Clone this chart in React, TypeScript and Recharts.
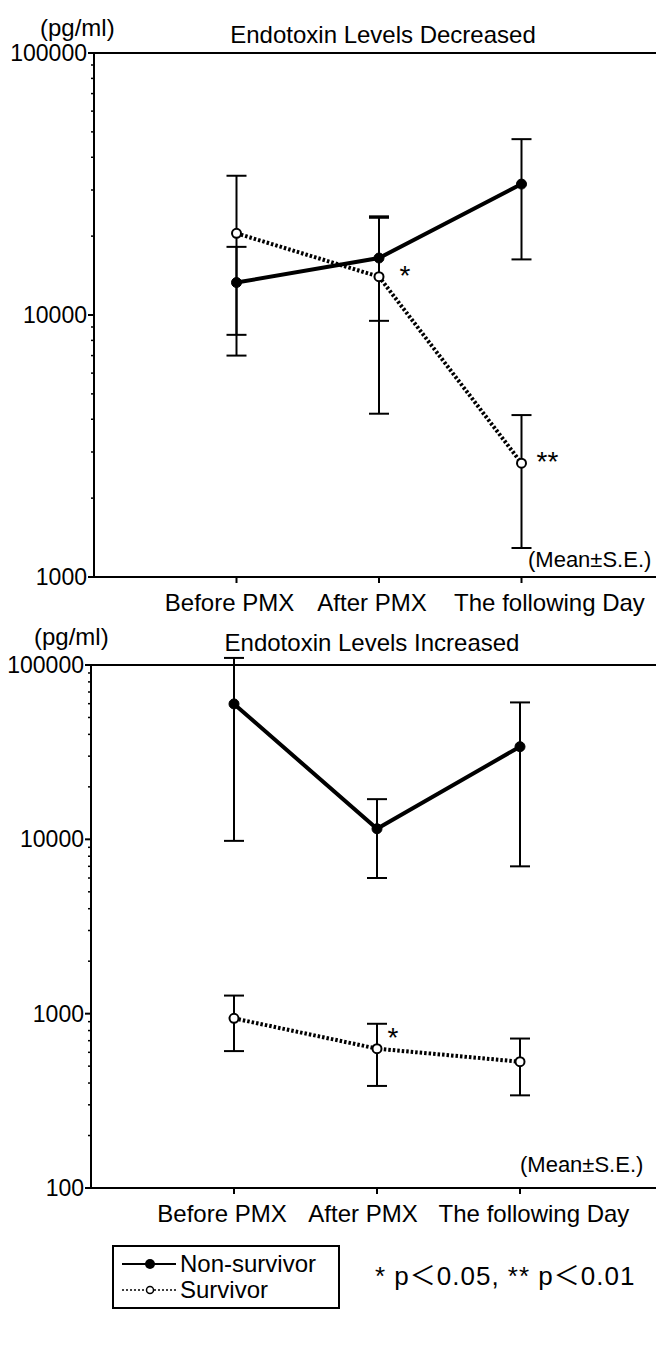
import React from "react";
import { LineChart, Line, XAxis, YAxis, ErrorBar, LabelList, ReferenceLine } from "recharts";

const categories = ["Before PMX", "After PMX", "The following Day"];
const xPositions = [1, 2, 3];

// Endotoxin Levels Decreased (pg/ml), mean and S.E.
const decNonSurvivor = [13300, 16500, 31600];
const decNonSurvivorSE = [4900, 7000, 15300];
const decSurvivor = [20500, 14000, 2720];
const decSurvivorSE = [13500, 9800, 1430];
const decSig = ["", "*", "**"];

// Endotoxin Levels Increased (pg/ml), mean and S.E.
const incNonSurvivor = [59800, 11500, 34000];
const incNonSurvivorSE = [50000, 5500, 27000];
const incSurvivor = [940, 630, 530];
const incSurvivorSE = [330, 245, 190];
const incSig = ["", "*", ""];

const decMajorTicks = [1000, 10000, 100000];
const incMajorTicks = [100, 1000, 10000, 100000];
const minorSteps = [2, 3, 4, 5, 6, 7, 8, 9];

const FONT = '"Liberation Sans", Arial, Helvetica, "Noto Sans CJK JP", sans-serif';

function buildRows(ns: number[], nsSE: number[], s: number[], sSE: number[], sig: string[]) {
  return xPositions.map((x, i) => ({
    x,
    ns: ns[i],
    nsErr: nsSE[i],
    s: s[i],
    sErr: sSE[i],
    sig: sig[i],
  }));
}

function logTicks(majors: number[]) {
  const out: number[] = [...majors];
  majors.slice(0, -1).forEach((m) => minorSteps.forEach((k) => out.push(m * k)));
  return out.sort((a, b) => a - b);
}

interface PanelProps {
  data: ReturnType<typeof buildRows>;
  majors: number[];
  axisX: number;
  rightMargin: number;
  height: number;
  labelShift: number[];
  starDx: number;
  starDy: number;
  rightBorderFrom?: number;
}

function Panel({ data, majors, axisX, rightMargin, height, labelShift, starDx, starDy, rightBorderFrom }: PanelProps) {
  const axisY = height - 43;
  const domain: [number, number] = [majors[0], majors[majors.length - 1]];

  const yTick = (p: any) => {
    const v = p.payload.value;
    const major = majors.includes(v);
    return (
      <g>
        <line x1={axisX - (major ? 6 : 3)} x2={axisX} y1={p.y} y2={p.y} stroke="#000" strokeWidth={major ? 2 : 1.5} />
        {major && (
          <text x={axisX - 7} y={p.y} textAnchor="end" dominantBaseline="central" fontSize={23} fontFamily={FONT} fill="#000">
            {v}
          </text>
        )}
      </g>
    );
  };

  const xTick = (p: any) => {
    const i = p.payload.value - 1;
    return (
      <g>
        <line x1={p.x} x2={p.x} y1={axisY} y2={axisY + 6} stroke="#000" strokeWidth={2} />
        <text x={p.x + labelShift[i]} y={axisY + 25} textAnchor="middle" dominantBaseline="central" fontSize={24} fontFamily={FONT} fill="#000">
          {categories[i]}
        </text>
      </g>
    );
  };

  const star = (p: any) => {
    if (!p.value) return null;
    return (
      <text x={p.x + starDx} y={p.y + starDy + 16} textAnchor="middle" fontSize={28} fontFamily={FONT} fill="#000">
        {p.value}
      </text>
    );
  };

  return (
    <LineChart width={664} height={height} data={data} margin={{ top: 53, right: rightMargin, bottom: 0, left: 0 }}>
      <XAxis
        type="number"
        dataKey="x"
        domain={[0, 4]}
        ticks={xPositions}
        tick={xTick}
        tickLine={false}
        axisLine={{ stroke: "#000", strokeWidth: 2 }}
        height={43}
      />
      <YAxis
        scale="log"
        domain={domain}
        ticks={logTicks(majors)}
        allowDataOverflow
        interval={0}
        tick={yTick}
        tickLine={false}
        axisLine={{ stroke: "#000", strokeWidth: 2 }}
        width={axisX}
      />
      <ReferenceLine y={domain[1]} stroke="#000" strokeWidth={2} />
      {rightBorderFrom && (
        <ReferenceLine
          segment={[
            { x: 4, y: rightBorderFrom },
            { x: 4, y: domain[0] },
          ]}
          stroke="#000"
          strokeWidth={1.5}
        />
      )}
      <Line
        type="linear"
        dataKey="ns"
        stroke="#000"
        strokeWidth={4}
        dot={{ r: 5, fill: "#000", stroke: "#000", strokeWidth: 1 }}
        isAnimationActive={false}
      >
        <ErrorBar dataKey="nsErr" direction="y" width={10} stroke="#000" strokeWidth={2} />
      </Line>
      <Line
        type="linear"
        dataKey="s"
        stroke="#000"
        strokeWidth={4}
        strokeDasharray="2.5 2"
        dot={{ r: 4.5, fill: "#fff", stroke: "#000", strokeWidth: 2, strokeDasharray: "0" }}
        isAnimationActive={false}
      >
        <ErrorBar dataKey="sErr" direction="y" width={10} stroke="#000" strokeWidth={2} />
        <LabelList dataKey="sig" content={star} />
      </Line>
    </LineChart>
  );
}

const txt = (left: number, top: number, size: number, extra: React.CSSProperties = {}): React.CSSProperties => ({
  position: "absolute",
  left,
  top,
  fontSize: size,
  lineHeight: 1,
  fontFamily: FONT,
  color: "#000",
  whiteSpace: "nowrap",
  transform: "translateY(-50%)",
  ...extra,
});

export default function App() {
  const decRows = buildRows(decNonSurvivor, decNonSurvivorSE, decSurvivor, decSurvivorSE, decSig);
  const incRows = buildRows(incNonSurvivor, incNonSurvivorSE, incSurvivor, incSurvivorSE, incSig);

  return (
    <div style={{ position: "relative", width: 664, height: 1366, margin: "-8px 0 0 -8px", overflow: "hidden", background: "#fff" }}>
      <div style={{ position: "absolute", left: 0, top: 0 }}>
        <Panel data={decRows} majors={decMajorTicks} axisX={94} rightMargin={0} height={620} labelShift={[-7, -7, 28]} starDx={26} starDy={-8} />
      </div>
      <div style={{ position: "absolute", left: 0, top: 612 }}>
        <Panel data={incRows} majors={incMajorTicks} axisX={91} rightMargin={1} height={619} labelShift={[-12, -14, 14]} starDx={16} starDy={-18} rightBorderFrom={2200} />
      </div>

      <div style={txt(40, 28, 24)}>(pg/ml)</div>
      <div style={txt(383, 35, 24, { transform: "translate(-50%, -50%)" })}>Endotoxin Levels Decreased</div>
      <div style={txt(528, 560, 22)}>(Mean±S.E.)</div>

      <div style={txt(34, 637, 24)}>(pg/ml)</div>
      <div style={txt(372, 643, 24, { transform: "translate(-50%, -50%)" })}>Endotoxin Levels Increased</div>
      <div style={txt(520, 1165, 22)}>(Mean±S.E.)</div>

      {/* Legend */}
      <div style={{ position: "absolute", left: 112, top: 1245, width: 224, height: 60, border: "2px solid #000", fontFamily: FONT }}>
        <div style={{ position: "absolute", left: 6, top: 4, display: "flex", alignItems: "center", height: 26 }}>
          <svg width={60} height={14}>
            <line x1={2} x2={56} y1={7} y2={7} stroke="#000" strokeWidth={2} />
            <circle cx={30} cy={7} r={5} fill="#000" />
          </svg>
          <span style={{ fontSize: 24, lineHeight: 1 }}>Non-survivor</span>
        </div>
        <div style={{ position: "absolute", left: 6, top: 30, display: "flex", alignItems: "center", height: 26 }}>
          <svg width={60} height={14}>
            <line x1={2} x2={56} y1={7} y2={7} stroke="#000" strokeWidth={1.5} strokeDasharray="2 2" />
            <circle cx={30} cy={7} r={3.5} fill="#fff" stroke="#000" strokeWidth={1.5} />
          </svg>
          <span style={{ fontSize: 24, lineHeight: 1 }}>Survivor</span>
        </div>
      </div>
      <div style={txt(375, 1276, 26, { letterSpacing: 1 })}>* p＜0.05, ** p＜0.01</div>
    </div>
  );
}
